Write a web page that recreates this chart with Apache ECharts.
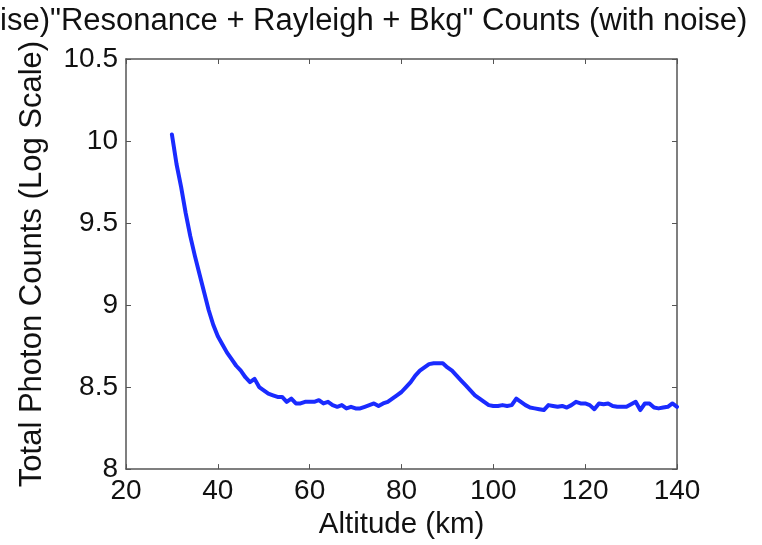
<!DOCTYPE html>
<html>
<head>
<meta charset="utf-8">
<script src="https://cdn.jsdelivr.net/npm/echarts@6/dist/echarts.min.js"></script>
<style>
html,body{margin:0;padding:0;background:#fff;}
#chart{width:762px;height:545px;}
</style>
</head>
<body>
<div id="chart"></div>
<script>
const titleText = 'ise)"Resonance + Rayleigh + Bkg" Counts (with noise)';
const xAxisName = 'Altitude (km)';
const yAxisName = 'Total Photon Counts (Log Scale)';
const altitudes = [];
for (let a = 30; a <= 140; a++) altitudes.push(a);
const counts = [
  10.04, 9.86, 9.72, 9.56, 9.42, 9.30, 9.19, 9.08, 8.97, 8.88,
  8.81, 8.76, 8.71, 8.67, 8.63, 8.60, 8.56, 8.53, 8.55, 8.50,
  8.48, 8.46, 8.45, 8.44, 8.44, 8.41, 8.43, 8.40, 8.40, 8.41,
  8.41, 8.41, 8.42, 8.40, 8.41, 8.39, 8.38, 8.39, 8.37, 8.38,
  8.37, 8.37, 8.38, 8.39, 8.40, 8.385, 8.40, 8.41, 8.43, 8.45,
  8.47, 8.50, 8.53, 8.57, 8.60, 8.62, 8.64, 8.645, 8.645, 8.645,
  8.62, 8.60, 8.57, 8.54, 8.51, 8.48, 8.45, 8.43, 8.41, 8.39,
  8.385, 8.385, 8.39, 8.385, 8.39, 8.43, 8.41, 8.39, 8.375, 8.37,
  8.365, 8.36, 8.39, 8.385, 8.38, 8.385, 8.375, 8.39, 8.41, 8.40,
  8.40, 8.39, 8.365, 8.40, 8.395, 8.40, 8.385, 8.38, 8.38, 8.38,
  8.395, 8.41, 8.36, 8.40, 8.40, 8.375, 8.37, 8.375, 8.38, 8.40,
  8.38
];
const xTicks = [20, 40, 60, 80, 100, 120, 140];
const yTicks = [8, 8.5, 9, 9.5, 10, 10.5];

const FONT = 'Liberation Sans';
const axisLine = {show: true, lineStyle: {color: '#555', width: 1.5}};
const tick = {show: true, inside: true, length: 5, lineStyle: {color: '#555', width: 1}};
const chart = echarts.init(document.getElementById('chart'), null, {renderer: 'canvas'});
chart.setOption({
  animation: false,
  backgroundColor: '#fff',
  title: {
    text: titleText, left: 0, top: 6, padding: 0,
    textStyle: {fontFamily: FONT, fontSize: 31, fontWeight: 'normal', color: '#111'}
  },
  grid: {left: 126, right: 85, top: 59, bottom: 75},
  xAxis: [{
    type: 'value', min: xTicks[0], max: xTicks[xTicks.length - 1], interval: 20,
    name: xAxisName, nameLocation: 'middle', nameGap: 34,
    nameTextStyle: {fontFamily: FONT, fontSize: 29.5, color: '#111'},
    axisLine: axisLine, axisTick: tick, splitLine: {show: false},
    axisLabel: {fontFamily: FONT, fontSize: 28, color: '#111', margin: 8}
  }, {
    type: 'value', position: 'top', min: xTicks[0], max: xTicks[xTicks.length - 1], interval: 20,
    axisLine: axisLine, axisTick: tick, splitLine: {show: false}, axisLabel: {show: false}
  }],
  yAxis: [{
    type: 'value', min: yTicks[0], max: yTicks[yTicks.length - 1], interval: 0.5,
    name: yAxisName, nameLocation: 'middle', nameGap: 78,
    nameTextStyle: {fontFamily: FONT, fontSize: 31, color: '#111'},
    axisLine: axisLine, axisTick: tick, splitLine: {show: false},
    axisLabel: {fontFamily: FONT, fontSize: 28, color: '#111', margin: 8}
  }, {
    type: 'value', position: 'right', min: yTicks[0], max: yTicks[yTicks.length - 1], interval: 0.5,
    axisLine: axisLine, axisTick: tick, splitLine: {show: false}, axisLabel: {show: false}
  }],
  series: [{
    type: 'line', xAxisIndex: 0, yAxisIndex: 0,
    data: altitudes.map((a, i) => [a, counts[i]]),
    showSymbol: false, symbol: 'none',
    lineStyle: {color: '#1a2bff', width: 4, join: 'round', cap: 'round'}
  }]
});
</script>
</body>
</html>
